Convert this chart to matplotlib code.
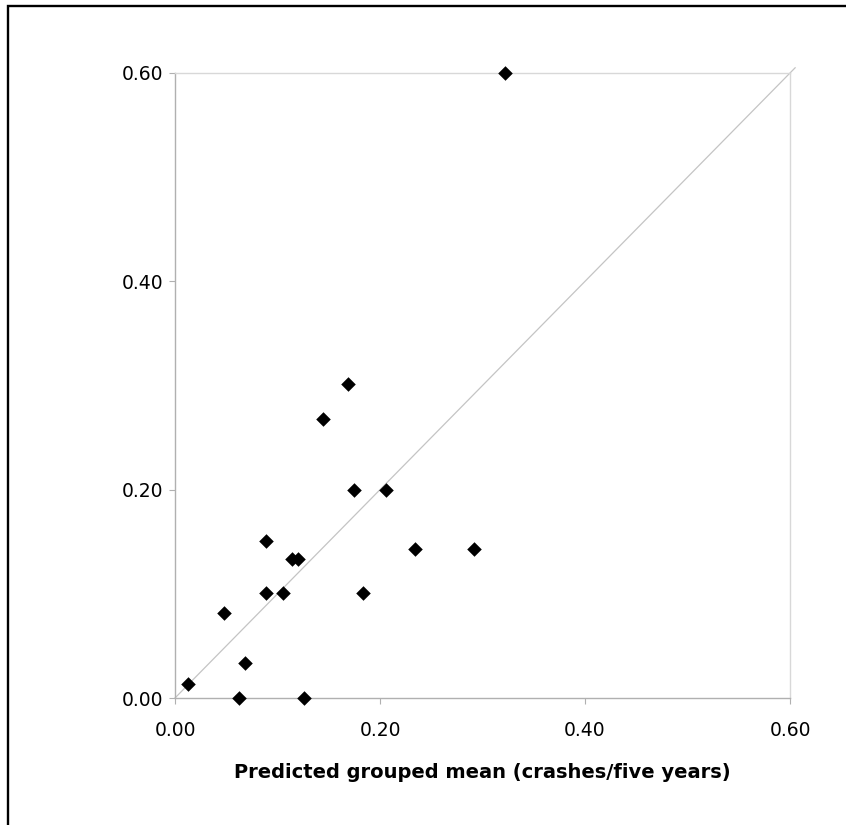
import matplotlib
matplotlib.use("Agg")
import matplotlib.pyplot as plt
from matplotlib.patches import Rectangle

predicted = [0.013, 0.062, 0.126, 0.068, 0.048, 0.089, 0.105, 0.183, 0.089,
             0.114, 0.120, 0.234, 0.292, 0.175, 0.206, 0.144, 0.169, 0.322]
observed = [0.013, 0.000, 0.000, 0.034, 0.082, 0.101, 0.101, 0.101, 0.151,
            0.133, 0.133, 0.143, 0.143, 0.200, 0.200, 0.268, 0.301, 0.600]
ticks = [0.0, 0.2, 0.4, 0.6]
tick_labels = ["0.00", "0.20", "0.40", "0.60"]
diag = [0.0, 0.605]
xlabel = "Predicted grouped mean (crashes/five years)"

W, H = 846, 825
fig = plt.figure(figsize=(W / 100, H / 100), dpi=100)
fig.patch.set_facecolor("white")

# outer chart-area border (right and bottom edges lie outside the crop)
fig.add_artist(Rectangle((7.8 / W, -0.2), 1.2, 1.2 - 6 / H,
                         transform=fig.transFigure, fill=False,
                         edgecolor="black", linewidth=1.7))

ax = fig.add_axes([175 / W, 1 - 698 / H, (790 - 175) / W, (698 - 73) / H])
ax.set_xlim(0, 0.6)
ax.set_ylim(0, 0.6)
ax.plot(diag, diag, color="#c4c4c4", linewidth=0.9, clip_on=False, zorder=1)
ax.scatter(predicted, observed, marker="D", s=55, color="black", zorder=3,
           clip_on=False, linewidths=0)

for side in ["left", "bottom"]:
    ax.spines[side].set_color("#b0b0b0")
    ax.spines[side].set_linewidth(1.0)
for side in ["top", "right"]:
    ax.spines[side].set_color("#d8d8d8")
    ax.spines[side].set_linewidth(1.0)

ax.set_xticks(ticks)
ax.set_xticklabels(tick_labels)
ax.set_yticks(ticks)
ax.set_yticklabels(tick_labels)
ax.tick_params(axis="both", direction="out", length=4.3, color="#b0b0b0",
               labelsize=13.5, labelcolor="black")
ax.tick_params(axis="y", pad=4.3)
ax.tick_params(axis="x", pad=12.5)
ax.set_xlabel(xlabel, fontsize=14, fontweight="bold", labelpad=16)

fig.savefig("out.png", dpi=100, facecolor="white")
